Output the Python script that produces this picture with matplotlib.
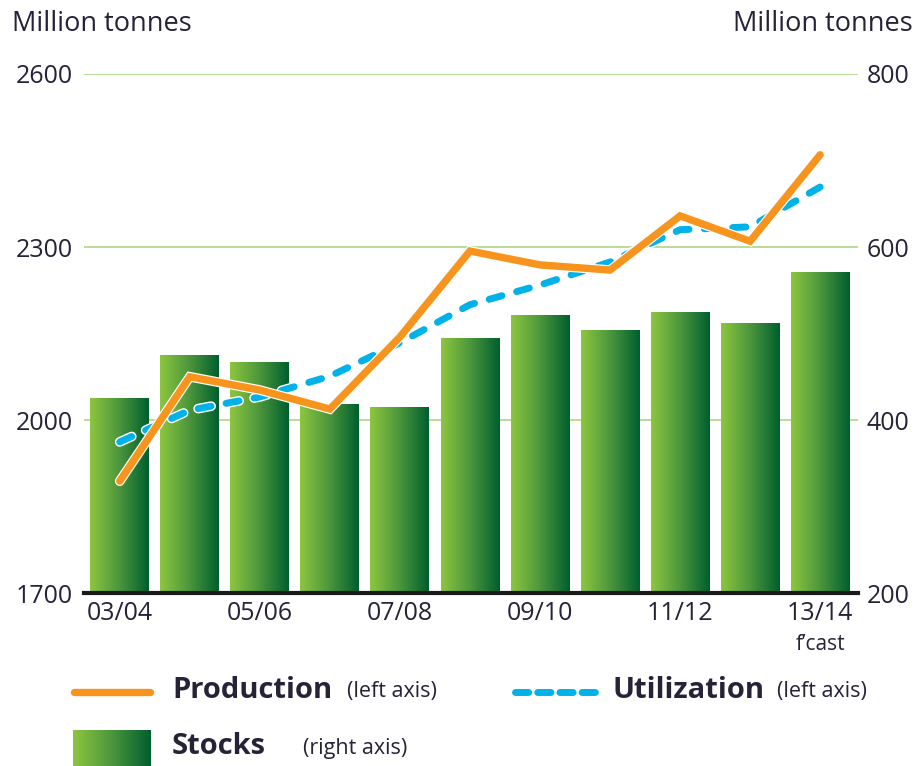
import numpy as np
import matplotlib
matplotlib.use("Agg")
import matplotlib.pyplot as plt
import matplotlib.patheffects as pe
from matplotlib.colors import LinearSegmentedColormap

# ----------------------
# Data
# ----------------------
seasons = ["03/04", "04/05", "05/06", "06/07", "07/08", "08/09",
           "09/10", "10/11", "11/12", "12/13", "13/14"]
tick_labels = ["03/04", "", "05/06", "", "07/08", "", "09/10", "", "11/12", "", "13/14"]
production = [1894, 2075, 2052, 2019, 2144, 2293, 2269, 2260, 2354, 2310, 2460]
utilization = [1962, 2017, 2040, 2076, 2134, 2200, 2234, 2274, 2330, 2335, 2404]
stocks = [425, 475, 467, 418, 414, 494, 521, 503, 524, 512, 571]

text_col = "#262338"
grid_col = "#b5d98f"
orange = "#f7941d"
blue = "#00b2e8"
green_cmap = LinearSegmentedColormap.from_list("grn", ["#8dc63f", "#4c963c", "#005f2e"])

plt.rcParams['font.family'] = ['Open Sans', 'DejaVu Sans']

fig = plt.figure(figsize=(9.2, 7.66), dpi=100)
ax = fig.add_axes([0.0913, 0.2258, 0.8413, 0.6776])
ax2 = ax.twinx()
ax.set_zorder(ax2.get_zorder() + 1)
ax.patch.set_visible(False)

x = np.arange(len(seasons))
width = 0.84

# ----------------------
# Stocks bars with left-to-right gradient (right axis)
# ----------------------
grad = np.linspace(0, 1, 256).reshape(1, -1)
for xi, v in zip(x, stocks):
    ax2.imshow(grad, cmap=green_cmap, aspect='auto', interpolation='bicubic',
               extent=[xi - width / 2, xi + width / 2, 200, v], zorder=2)

ax2.set_ylim(200, 800)
ax2.set_xlim(-0.51, 10.54)
ax2.set_yticks([200, 400, 600, 800])
ax2.tick_params(axis='y', length=0, pad=6, labelsize=18, labelcolor=text_col)

# gridlines behind bars
for g in [2000, 2300, 2600]:
    ax2.axhline(200 + (g - 1700) * 600 / 900, color=grid_col, lw=1.3, zorder=1)

# ----------------------
# Lines (left axis)
# ----------------------
outline = [pe.Stroke(linewidth=7, foreground='white'), pe.Normal()]
ax.plot(x, utilization, color=blue, lw=5, solid_capstyle='round',
        dash_capstyle='round', dashes=(1.9, 2.2), path_effects=outline, zorder=3)
ax.plot(x, production, color=orange, lw=5.3, solid_capstyle='round',
        solid_joinstyle='miter', path_effects=outline, zorder=4)

ax.set_ylim(1700, 2600)
ax.set_xlim(-0.51, 10.54)
ax.set_yticks([1700, 2000, 2300, 2600])
ax.tick_params(axis='y', length=0, pad=8, labelsize=18, labelcolor=text_col)
ax.set_xticks(x)
ax.set_xticklabels(tick_labels)
ax.tick_params(axis='x', length=0, pad=6, labelsize=18, labelcolor=text_col)

for a in (ax, ax2):
    for s in ['top', 'left', 'right']:
        a.spines[s].set_visible(False)
ax2.spines['bottom'].set_visible(False)
ax.spines['bottom'].set_color('#1a1a1a')
ax.spines['bottom'].set_linewidth(3)
ax.spines['bottom'].set_zorder(5)

ax.text(10, -0.078, "f\u2019cast", transform=ax.get_xaxis_transform(),
        ha='center', va='top', fontsize=15, color=text_col)

# axis titles
fig.text(0.013, 0.969, "Million tonnes", fontsize=19.5, color=text_col, va='center', ha='left')
fig.text(0.992, 0.969, "Million tonnes", fontsize=19.5, color=text_col, va='center', ha='right')

# ----------------------
# Custom legend
# ----------------------
fig.add_artist(plt.Line2D([0.080, 0.163], [0.097, 0.097], color=orange, lw=5.3,
                          solid_capstyle='round', transform=fig.transFigure))
fig.text(0.187, 0.099, "Production", fontweight='bold', fontsize=21,
         color=text_col, va='center', ha='left')
fig.text(0.377, 0.097, "(left axis)", fontsize=15.5,
         color=text_col, va='center', ha='left')

fig.add_artist(plt.Line2D([0.560, 0.648], [0.097, 0.097], color=blue, lw=5,
                          dash_capstyle='round', dashes=(1.9, 1.3),
                          transform=fig.transFigure))
fig.text(0.666, 0.099, "Utilization", fontweight='bold', fontsize=21,
         color=text_col, va='center', ha='left')
fig.text(0.845, 0.097, "(left axis)", fontsize=15.5,
         color=text_col, va='center', ha='left')

leg_ax = fig.add_axes([0.079, 0.0, 0.084, 0.047])
leg_ax.imshow(grad, cmap=green_cmap, aspect='auto', interpolation='bicubic')
leg_ax.axis('off')
fig.text(0.187, 0.025, "Stocks", fontweight='bold', fontsize=21,
         color=text_col, va='center', ha='left')
fig.text(0.329, 0.023, "(right axis)", fontsize=15.5,
         color=text_col, va='center', ha='left')

fig.savefig("out.png", dpi=100)
